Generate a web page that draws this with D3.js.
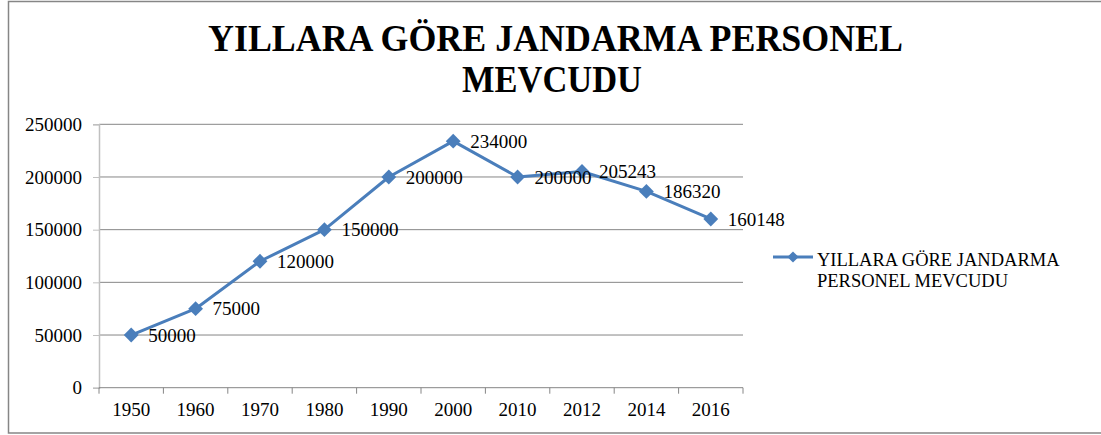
<!DOCTYPE html>
<meta charset="utf-8">
<title>Yillara Gore Jandarma Personel Mevcudu</title>
<style>
body {
  margin: 0;
  background: #fff;
}
svg text {
  font-family: "Liberation Serif", "Times New Roman", Times, "DejaVu Serif", serif !important;
  fill: #000;
}
.grid line {
  stroke: #868686;
  stroke-width: 1px;
}
</style>
<body>
<script src="https://cdn.jsdelivr.net/npm/d3@7"></script>
<script>

var years = ["1950", "1960", "1970", "1980", "1990", "2000", "2010", "2012", "2014", "2016"];
var personel = [50000, 75000, 120000, 150000, 200000, 234000, 200000, 205243, 186320, 160148];
var yTicks = [0, 50000, 100000, 150000, 200000, 250000];
var seriesName = ["YILLARA GÖRE JANDARMA", "PERSONEL MEVCUDU"];
var titleLines = ["YILLARA GÖRE JANDARMA PERSONEL", "MEVCUDU"];

var w = 1101,
    h = 435,
    plotLeft = 99,
    plotRight = 743,
    plotTop = 124.3,
    plotBottom = 387.7,
    blue = "#4a7ebb";

var svg = d3.select("body").append("svg")
    .attr("width", w)
    .attr("height", h);

// chart frame
svg.append("rect")
    .attr("x", 8.5)
    .attr("y", 1.5)
    .attr("width", 1110)
    .attr("height", 431.5)
    .attr("fill", "#fff")
    .attr("stroke", "#868686")
    .attr("stroke-width", 1.5);

// title
var titleW = [695, 180];
svg.selectAll(".title")
    .data(titleLines)
  .enter().append("text")
    .attr("class", "title")
    .attr("x", function(d, i) { return i == 0 ? 555.5 : 552; })
    .attr("y", function(d, i) { return 51 + i * 40.5; })
    .attr("text-anchor", "middle")
    .attr("font-size", 38)
    .attr("font-weight", "bold")
    .attr("textLength", function(d, i) { return titleW[i]; })
    .attr("lengthAdjust", "spacingAndGlyphs")
    .text(function(d) { return d; });

var x = d3.scaleBand()
    .domain(years)
    .range([plotLeft, plotRight]);

var y = d3.scaleLinear()
    .domain([0, 250000])
    .range([plotBottom, plotTop]);

// gridlines
svg.append("g")
    .attr("class", "grid")
  .selectAll("line")
    .data(yTicks.slice(1))
  .enter().append("line")
    .attr("x1", plotLeft)
    .attr("x2", plotRight)
    .attr("y1", function(d) { return y(d); })
    .attr("y2", function(d) { return y(d); });

// y axis
var yAxis = svg.append("g")
    .attr("transform", "translate(" + plotLeft + ",0)")
    .call(d3.axisLeft(y).tickValues(yTicks).tickSize(6).tickPadding(11).tickFormat(d3.format("d")));
yAxis.attr("font-family", null);
yAxis.select(".domain").attr("stroke", "#c0c0c0").attr("stroke-width", 1.5);
yAxis.selectAll(".tick line").attr("stroke", "#c0c0c0");
yAxis.selectAll("text")
    .attr("font-size", 19)
    .attr("fill", "#000");

// x axis
var xAxis = svg.append("g")
    .attr("transform", "translate(0," + plotBottom + ")")
    .call(d3.axisBottom(x).tickSize(0).tickPadding(15));
xAxis.attr("font-family", null);
xAxis.select(".domain").remove();
xAxis.append("line")
    .attr("x1", plotLeft).attr("x2", plotRight)
    .attr("stroke", "#868686");
xAxis.selectAll(".bnd")
    .data(years.concat(["end"]))
  .enter().append("line")
    .attr("x1", function(d, i) { return plotLeft + i * x.step(); })
    .attr("x2", function(d, i) { return plotLeft + i * x.step(); })
    .attr("y1", 0)
    .attr("y2", 6)
    .attr("stroke", "#868686");
xAxis.selectAll("text")
    .attr("font-size", 19)
    .attr("fill", "#000");

// series line
var cx = function(d, i) { return x(years[i]) + x.bandwidth() / 2; };

svg.append("path")
    .datum(personel)
    .attr("fill", "none")
    .attr("stroke", blue)
    .attr("stroke-width", 3)
    .attr("stroke-linejoin", "round")
    .attr("d", d3.line().x(cx).y(function(d) { return y(d); }));

var diamond = d3.symbol().type(d3.symbolDiamond2).size(140);

svg.selectAll(".pt")
    .data(personel)
  .enter().append("path")
    .attr("class", "pt")
    .attr("transform", function(d, i) { return "translate(" + cx(d, i) + "," + y(d) + ")"; })
    .attr("d", diamond)
    .attr("fill", blue);

// data labels
svg.selectAll(".lbl")
    .data(personel)
  .enter().append("text")
    .attr("class", "lbl")
    .attr("x", function(d, i) { return cx(d, i) + 17; })
    .attr("y", function(d) { return y(d); })
    .attr("dy", "0.35em")
    .attr("font-size", 19)
    .text(function(d) { return d; });

// legend
var lg = svg.append("g");
lg.append("line")
    .attr("x1", 773).attr("x2", 813)
    .attr("y1", 257).attr("y2", 257)
    .attr("stroke", blue)
    .attr("stroke-width", 3);
lg.append("path")
    .attr("transform", "translate(793,257)")
    .attr("d", d3.symbol().type(d3.symbolDiamond2).size(80))
    .attr("fill", blue);
lg.selectAll("text")
    .data(seriesName)
  .enter().append("text")
    .attr("x", 817)
    .attr("y", function(d, i) { return 266 + i * 21; })
    .attr("font-size", 18.5)
    .text(function(d) { return d; });

</script>
